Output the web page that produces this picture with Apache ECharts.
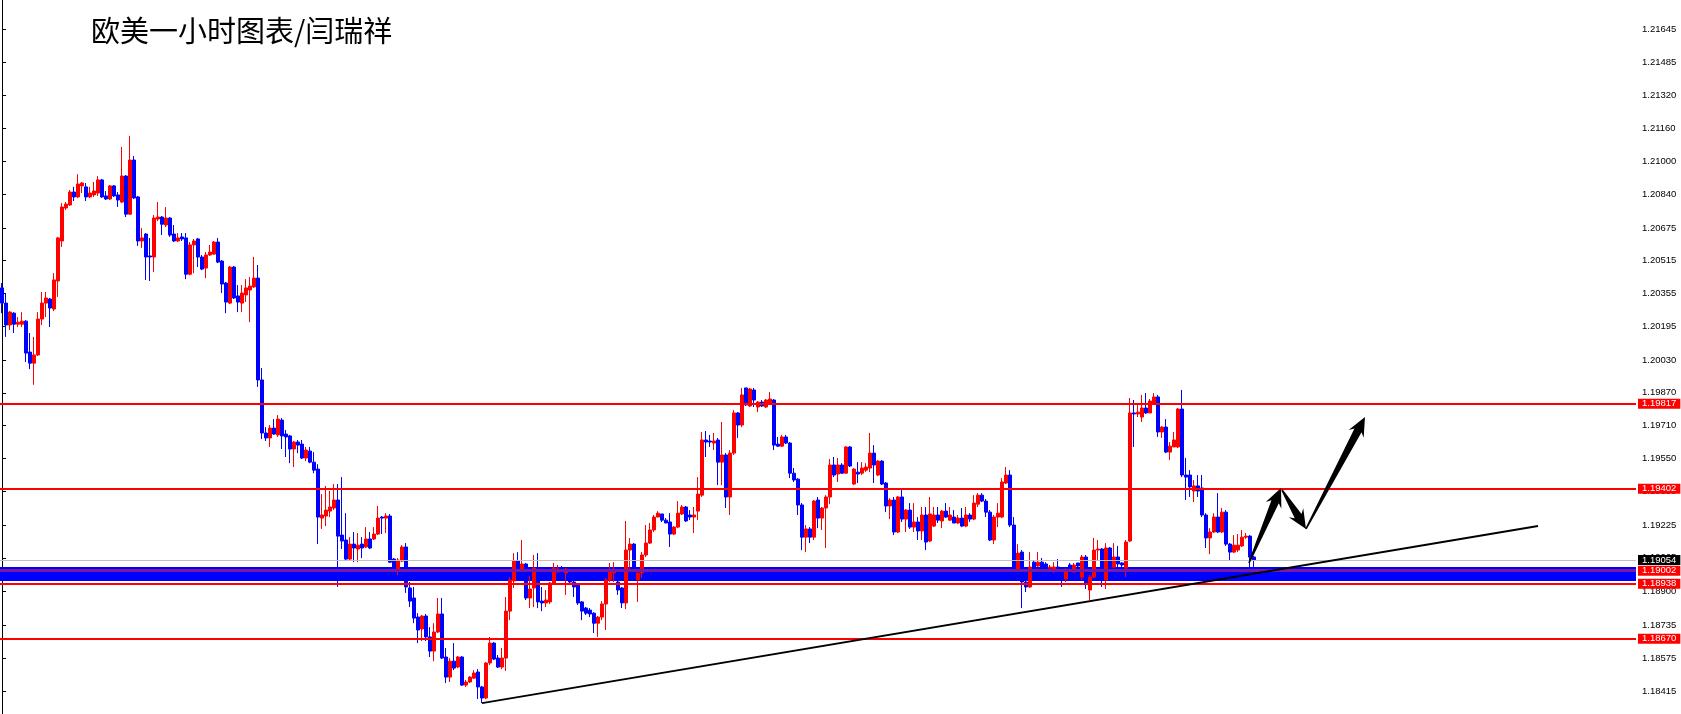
<!DOCTYPE html>
<html><head><meta charset="utf-8">
<script src="https://cdn.jsdelivr.net/npm/echarts@6/dist/echarts.min.js"></script>
<style>html,body{margin:0;padding:0;background:#fff}#c{width:1681px;height:714px}</style>
</head><body><div id="c"></div><script>
// [open, close, low, high]
const candles = [
[1.20382,1.20308,1.20259,1.20406],[1.20308,1.20201,1.20143,1.20357],[1.20201,1.20264,1.20177,1.20269],[1.20259,1.20205,1.20162,1.20264],
[1.20205,1.20215,1.20191,1.20240],[1.20205,1.20220,1.20191,1.20264],[1.20220,1.20064,1.20020,1.20225],[1.20069,1.20015,1.19986,1.20162],
[1.20015,1.20055,1.19909,1.20143],[1.20055,1.20230,1.20050,1.20264],[1.20230,1.20308,1.20201,1.20362],[1.20308,1.20333,1.20240,1.20362],
[1.20328,1.20284,1.20191,1.20333],[1.20279,1.20421,1.20269,1.20454],[1.20416,1.20626,1.20338,1.20631],[1.20611,1.20777,1.20582,1.20796],
[1.20772,1.20791,1.20762,1.20801],[1.20787,1.20850,1.20782,1.20860],[1.20850,1.20826,1.20806,1.20875],[1.20826,1.20889,1.20821,1.20937],
[1.20880,1.20894,1.20845,1.20899],[1.20875,1.20826,1.20806,1.20894],[1.20826,1.20845,1.20821,1.20875],[1.20836,1.20855,1.20826,1.20899],
[1.20845,1.20909,1.20831,1.20928],[1.20909,1.20826,1.20821,1.20914],[1.20831,1.20816,1.20811,1.20855],[1.20816,1.20880,1.20811,1.20884],
[1.20880,1.20831,1.20826,1.20884],[1.20836,1.20811,1.20777,1.20850],[1.20801,1.20928,1.20796,1.21070],[1.20928,1.20742,1.20728,1.20933],
[1.20742,1.21006,1.20738,1.21124],[1.21006,1.20821,1.20816,1.21026],[1.20826,1.20611,1.20587,1.20831],[1.20611,1.20626,1.20577,1.20674],
[1.20645,1.20533,1.20421,1.20650],[1.20538,1.20533,1.20416,1.20626],[1.20533,1.20723,1.20459,1.20738],[1.20718,1.20728,1.20708,1.20801],
[1.20728,1.20693,1.20640,1.20733],[1.20689,1.20723,1.20679,1.20777],[1.20723,1.20640,1.20631,1.20728],[1.20645,1.20611,1.20606,1.20689],
[1.20611,1.20626,1.20606,1.20650],[1.20631,1.20621,1.20611,1.20650],[1.20626,1.20449,1.20425,1.20650],[1.20449,1.20592,1.20444,1.20606],
[1.20592,1.20611,1.20454,1.20621],[1.20621,1.20533,1.20484,1.20626],[1.20533,1.20474,1.20469,1.20543],[1.20479,1.20543,1.20430,1.20557],
[1.20543,1.20557,1.20538,1.20592],[1.20547,1.20606,1.20543,1.20611],[1.20606,1.20508,1.20503,1.20626],[1.20513,1.20401,1.20357,1.20518],
[1.20406,1.20313,1.20259,1.20411],[1.20308,1.20484,1.20303,1.20489],[1.20484,1.20333,1.20328,1.20489],[1.20343,1.20313,1.20264,1.20396],
[1.20308,1.20357,1.20264,1.20396],[1.20348,1.20382,1.20313,1.20425],[1.20372,1.20391,1.20215,1.20435],[1.20387,1.20430,1.20382,1.20533],
[1.20430,1.19933,1.19899,1.20494],[1.19933,1.19674,1.19645,1.19991],[1.19674,1.19650,1.19635,1.19703],[1.19650,1.19698,1.19606,1.19713],
[1.19698,1.19669,1.19665,1.19742],[1.19665,1.19742,1.19655,1.19762],[1.19737,1.19660,1.19596,1.19747],[1.19669,1.19655,1.19557,1.19689],
[1.19660,1.19596,1.19527,1.19665],[1.19596,1.19630,1.19508,1.19635],[1.19630,1.19615,1.19576,1.19640],[1.19620,1.19552,1.19547,1.19640],
[1.19552,1.19591,1.19537,1.19606],[1.19586,1.19532,1.19527,1.19606],[1.19532,1.19493,1.19478,1.19581],[1.19498,1.19264,1.19132,1.19522],
[1.19259,1.19274,1.19206,1.19376],[1.19269,1.19298,1.19220,1.19416],[1.19293,1.19313,1.19264,1.19391],[1.19308,1.19347,1.19298,1.19425],
[1.19347,1.19171,1.18923,1.19425],[1.19176,1.19147,1.19108,1.19459],[1.19152,1.19059,1.19049,1.19283],[1.19059,1.19132,1.19054,1.19166],
[1.19132,1.19113,1.19044,1.19191],[1.19108,1.19127,1.19044,1.19186],[1.19132,1.19113,1.19064,1.19166],[1.19118,1.19157,1.19113,1.19215],
[1.19157,1.19113,1.19108,1.19191],[1.19157,1.19181,1.19152,1.19215],[1.19181,1.19259,1.19176,1.19318],[1.19264,1.19259,1.19181,1.19269],
[1.19259,1.19269,1.19186,1.19283],[1.19269,1.19044,1.19040,1.19279],[1.19059,1.19005,1.18996,1.19064],[1.19005,1.19054,1.18981,1.19064],
[1.19049,1.19118,1.19044,1.19127],[1.19118,1.18923,1.18894,1.19137],[1.18918,1.18854,1.18825,1.18947],[1.18869,1.18771,1.18746,1.18923],
[1.18776,1.18713,1.18649,1.18795],[1.18718,1.18781,1.18659,1.18786],[1.18781,1.18679,1.18659,1.18791],[1.18679,1.18610,1.18581,1.18727],
[1.18610,1.18703,1.18561,1.18746],[1.18703,1.18791,1.18698,1.18869],[1.18791,1.18576,1.18571,1.18869],[1.18581,1.18483,1.18454,1.18625],
[1.18483,1.18561,1.18459,1.18576],[1.18561,1.18527,1.18517,1.18649],[1.18532,1.18581,1.18527,1.18586],[1.18581,1.18444,1.18440,1.18586],
[1.18444,1.18459,1.18435,1.18469],[1.18459,1.18483,1.18454,1.18488],[1.18478,1.18503,1.18474,1.18517],[1.18508,1.18435,1.18376,1.18522],
[1.18435,1.18381,1.18356,1.18440],[1.18381,1.18552,1.18376,1.18556],[1.18552,1.18649,1.18542,1.18679],[1.18649,1.18571,1.18566,1.18654],
[1.18576,1.18532,1.18527,1.18591],[1.18532,1.18576,1.18522,1.18625],[1.18576,1.18805,1.18513,1.18874],[1.18805,1.18957,1.18761,1.18971],
[1.18952,1.19049,1.18918,1.19088],[1.19049,1.19020,1.18991,1.19093],[1.19000,1.19035,1.18996,1.19152],[1.19035,1.18869,1.18859,1.19040],
[1.18869,1.18913,1.18820,1.18976],[1.18918,1.19015,1.18825,1.19079],[1.19015,1.18850,1.18820,1.19088],[1.18854,1.18845,1.18805,1.18923],
[1.18845,1.18859,1.18825,1.18908],[1.18850,1.18942,1.18840,1.18947],[1.18942,1.19015,1.18933,1.19040],[1.18996,1.19010,1.18996,1.19030],
[1.19010,1.18996,1.18991,1.19025],[1.18991,1.19010,1.18884,1.19015],[1.18996,1.18947,1.18933,1.19005],[1.18947,1.18923,1.18874,1.18952],
[1.18933,1.18845,1.18835,1.18937],[1.18850,1.18805,1.18761,1.18854],[1.18820,1.18795,1.18786,1.18825],[1.18810,1.18791,1.18776,1.18820],
[1.18795,1.18746,1.18698,1.18800],[1.18746,1.18776,1.18679,1.18781],[1.18776,1.18840,1.18761,1.18854],[1.18840,1.18957,1.18713,1.18967],
[1.18957,1.18996,1.18947,1.19040],[1.18991,1.19005,1.18947,1.19044],[1.18947,1.18908,1.18884,1.18957],[1.18918,1.18845,1.18820,1.18923],
[1.18845,1.19103,1.18815,1.19245],[1.19103,1.19132,1.19005,1.19162],[1.19132,1.19015,1.19010,1.19137],[1.18957,1.18991,1.18850,1.19005],
[1.18991,1.19079,1.18967,1.19093],[1.19079,1.19137,1.19069,1.19225],[1.19137,1.19201,1.19132,1.19235],[1.19201,1.19264,1.19191,1.19274],
[1.19264,1.19283,1.19264,1.19293],[1.19279,1.19249,1.19240,1.19279],[1.19249,1.19235,1.19235,1.19259],[1.19240,1.19181,1.19118,1.19283],
[1.19181,1.19215,1.19176,1.19220],[1.19215,1.19283,1.19210,1.19342],[1.19279,1.19313,1.19274,1.19323],[1.19313,1.19245,1.19240,1.19318],
[1.19274,1.19264,1.19249,1.19298],[1.19264,1.19274,1.19186,1.19313],[1.19293,1.19376,1.19249,1.19459],[1.19371,1.19640,1.19362,1.19679],
[1.19640,1.19630,1.19557,1.19684],[1.19635,1.19630,1.19606,1.19665],[1.19625,1.19635,1.19591,1.19674],[1.19640,1.19532,1.19420,1.19650],
[1.19532,1.19567,1.19420,1.19728],[1.19567,1.19362,1.19308,1.19576],[1.19362,1.19576,1.19274,1.19591],[1.19576,1.19772,1.19567,1.19786],
[1.19772,1.19713,1.19650,1.19776],[1.19713,1.19860,1.19703,1.19894],[1.19894,1.19811,1.19806,1.19894],[1.19806,1.19889,1.19801,1.19894],
[1.19884,1.19835,1.19801,1.19894],[1.19801,1.19825,1.19776,1.19830],[1.19825,1.19806,1.19801,1.19835],[1.19801,1.19835,1.19796,1.19840],
[1.19820,1.19840,1.19815,1.19874],[1.19835,1.19615,1.19591,1.19840],[1.19620,1.19610,1.19606,1.19655],[1.19610,1.19655,1.19606,1.19665],
[1.19655,1.19625,1.19620,1.19665],[1.19625,1.19478,1.19454,1.19630],[1.19478,1.19445,1.19435,1.19503],[1.19449,1.19323,1.19274,1.19454],
[1.19323,1.19166,1.19103,1.19332],[1.19166,1.19206,1.19093,1.19225],[1.19206,1.19166,1.19137,1.19215],[1.19166,1.19342,1.19152,1.19347],
[1.19347,1.19259,1.19210,1.19362],[1.19259,1.19308,1.19201,1.19313],[1.19308,1.19362,1.19113,1.19371],[1.19362,1.19518,1.19327,1.19547],
[1.19518,1.19469,1.19459,1.19557],[1.19474,1.19518,1.19435,1.19552],[1.19518,1.19478,1.19474,1.19527],[1.19478,1.19606,1.19478,1.19610],
[1.19606,1.19513,1.19508,1.19610],[1.19425,1.19498,1.19420,1.19503],[1.19483,1.19474,1.19430,1.19532],[1.19478,1.19503,1.19469,1.19532],
[1.19493,1.19508,1.19483,1.19527],[1.19503,1.19576,1.19483,1.19674],[1.19576,1.19518,1.19430,1.19615],[1.19469,1.19537,1.19464,1.19542],
[1.19537,1.19425,1.19420,1.19542],[1.19430,1.19318,1.19288,1.19435],[1.19318,1.19347,1.19254,1.19357],[1.19347,1.19191,1.19176,1.19362],
[1.19191,1.19362,1.19186,1.19366],[1.19362,1.19254,1.19240,1.19396],[1.19254,1.19298,1.19191,1.19303],[1.19298,1.19215,1.19206,1.19332],
[1.19215,1.19240,1.19191,1.19332],[1.19240,1.19196,1.19152,1.19264],[1.19196,1.19274,1.19152,1.19313],[1.19274,1.19142,1.19103,1.19313],
[1.19147,1.19279,1.19142,1.19362],[1.19220,1.19274,1.19215,1.19313],[1.19274,1.19249,1.19235,1.19313],[1.19245,1.19293,1.19210,1.19298],
[1.19293,1.19264,1.19259,1.19332],[1.19249,1.19274,1.19245,1.19313],[1.19264,1.19235,1.19235,1.19298],[1.19235,1.19259,1.19230,1.19274],
[1.19259,1.19220,1.19215,1.19308],[1.19220,1.19274,1.19215,1.19313],[1.19274,1.19254,1.19240,1.19283],[1.19254,1.19332,1.19249,1.19371],
[1.19327,1.19371,1.19313,1.19381],[1.19371,1.19342,1.19337,1.19381],[1.19342,1.19288,1.19264,1.19352],[1.19288,1.19152,1.19147,1.19298],
[1.19152,1.19264,1.19132,1.19274],[1.19264,1.19283,1.19215,1.19332],[1.19264,1.19435,1.19259,1.19454],[1.19430,1.19469,1.19425,1.19508],
[1.19469,1.19225,1.19215,1.19493],[1.19225,1.19005,1.19000,1.19264],[1.19005,1.19088,1.19000,1.19132],[1.19093,1.18947,1.18820,1.19103],
[1.18947,1.18923,1.18898,1.18971],[1.18923,1.19020,1.18918,1.19093],[1.19044,1.19020,1.19005,1.19054],[1.19025,1.19044,1.19020,1.19093],
[1.19044,1.19020,1.19005,1.19064],[1.19035,1.19020,1.19015,1.19044],[1.19015,1.19020,1.19005,1.19030],[1.19010,1.19020,1.18991,1.19044],
[1.19020,1.19015,1.19005,1.19059],[1.19005,1.18957,1.18923,1.19015],[1.18962,1.19005,1.18947,1.19015],[1.19030,1.19015,1.19005,1.19040],
[1.18996,1.19030,1.18991,1.19040],[1.19040,1.19025,1.18986,1.19040],[1.18971,1.19069,1.18957,1.19079],[1.19069,1.18942,1.18913,1.19079],
[1.18908,1.18971,1.18859,1.18981],[1.18971,1.19103,1.18967,1.19162],[1.19103,1.19108,1.19054,1.19152],[1.19108,1.18971,1.18923,1.19113],
[1.18957,1.19113,1.18913,1.19137],[1.19113,1.19020,1.18996,1.19118],[1.19020,1.19069,1.19015,1.19137],[1.19069,1.19035,1.19020,1.19123],
[1.19040,1.19030,1.19020,1.19044],[1.19015,1.19142,1.18971,1.19152],[1.19147,1.19772,1.19142,1.19845],[1.19772,1.19767,1.19606,1.19835],
[1.19767,1.19776,1.19752,1.19820],[1.19752,1.19796,1.19728,1.19860],[1.19796,1.19772,1.19767,1.19869],[1.19772,1.19830,1.19772,1.19840],
[1.19820,1.19850,1.19815,1.19869],[1.19850,1.19679,1.19655,1.19860],[1.19679,1.19703,1.19650,1.19708],[1.19703,1.19581,1.19576,1.19742],
[1.19581,1.19610,1.19542,1.19630],[1.19606,1.19640,1.19606,1.19679],[1.19606,1.19791,1.19601,1.19796],[1.19791,1.19469,1.19459,1.19884],
[1.19469,1.19459,1.19347,1.19552],[1.19469,1.19411,1.19362,1.19493],[1.19391,1.19416,1.19337,1.19445],[1.19416,1.19391,1.19362,1.19469],
[1.19406,1.19274,1.19264,1.19469],[1.19274,1.19162,1.19113,1.19283],[1.19162,1.19191,1.19083,1.19210],[1.19191,1.19264,1.19186,1.19283],
[1.19264,1.19191,1.19186,1.19381],[1.19191,1.19288,1.19186,1.19308],[1.19288,1.19132,1.19123,1.19298],[1.19132,1.19093,1.19054,1.19137],
[1.19093,1.19127,1.19088,1.19176],[1.19103,1.19127,1.19093,1.19181],[1.19123,1.19166,1.19118,1.19201],[1.19166,1.19171,1.19157,1.19186],
[1.19171,1.19069,1.19020,1.19176],[1.19069,1.19054,1.19020,1.19074]
];
const totalSlots = 409;
const categories = Array.from({length: totalSlots}, (_, i) => String(i));
const yTicks = [1.21645,1.21485,1.21320,1.21160,1.21000,1.20840,1.20675,1.20515,1.20355,1.20195,1.20030,
  1.19870,1.19710,1.19550,1.19390,1.19225,1.19065,1.18900,1.18735,1.18575,1.18415];
const yRange = [1.18303, 1.21787];
const levelLines = [1.19817, 1.19402, 1.18938, 1.18670];
const bandLine = 1.19002;
const bandRange = [1.19020, 1.18952];
const bidPrice = 1.19054;
const trendLine = [[120, 1.18356], [384, 1.19220]];
const arrows = [[311.75, 1.19040, 319.75, 1.19406], [320, 1.19396, 326, 1.19206], [326, 1.19206, 340.75, 1.19752]];
const titleText = '欧美一小时图表/闫瑞祥';

const FONT = 'Liberation Sans';
function priceLabel(bg) {
  return {show: true, position: 'end', distance: 2, formatter: p => Number(p.value).toFixed(5),
    backgroundColor: bg, color: '#fff', padding: [1, 4, 0, 4], fontSize: 9.5, fontFamily: FONT, lineHeight: 9};
}
const lineData = [];
levelLines.forEach(v => lineData.push({yAxis: v, lineStyle: {color: '#ff0000', width: 2, type: 'solid'}, label: priceLabel('#ff0000')}));
lineData.push({yAxis: bandLine, lineStyle: {color: '#7a1aa0', width: 3, type: 'solid'}, label: priceLabel('#ff0000')});
lineData.push({yAxis: bidPrice, lineStyle: {color: '#c0c0c0', width: 1, type: 'solid'}, label: priceLabel('#000000')});
lineData.push([{coord: trendLine[0], lineStyle: {color: '#000', width: 2, type: 'solid'}, label: {show: false}}, {coord: trendLine[1]}]);

const chart = echarts.init(document.getElementById('c'), null, {renderer: 'canvas'});
chart.setOption({
  animation: false,
  backgroundColor: '#ffffff',
  title: {text: titleText, left: 86, top: 11, textStyle: {fontSize: 29, fontWeight: 'normal', color: '#000', fontFamily: 'Noto Sans CJK SC'}},
  grid: {left: 0, right: 45, top: 0, bottom: 0, containLabel: false},
  xAxis: [
    {type: 'category', data: categories, boundaryGap: true, show: false},
    {type: 'value', min: -0.5, max: totalSlots - 0.5, show: false}
  ],
  yAxis: [{
    type: 'value', position: 'right', min: yRange[0], max: yRange[1],
    splitLine: {show: false},
    axisLine: {show: true, lineStyle: {color: '#000', width: 1}},
    axisTick: {show: true, customValues: yTicks, length: 4, lineStyle: {color: '#000'}},
    axisLabel: {customValues: yTicks, formatter: v => v.toFixed(5), color: '#000', fontSize: 9.5, fontFamily: FONT, margin: 6}
  }],
  series: [
    {type: 'line', xAxisIndex: 1, data: [], z: 1, silent: true,
      markArea: {silent: true, itemStyle: {color: '#0000ff', opacity: 1}, data: [[{yAxis: bandRange[0]}, {yAxis: bandRange[1]}]]}},
    {type: 'candlestick', xAxisIndex: 0, data: candles, barWidth: 3, z: 3,
      itemStyle: {color: '#ff0000', color0: '#0000ff', borderColor: '#ff0000', borderColor0: '#0000ff', borderWidth: 1}},
    {type: 'line', xAxisIndex: 1, data: [], z: 4, silent: true,
      markLine: {symbol: 'none', silent: true, animation: false, precision: 5, data: lineData}},
    {type: 'custom', xAxisIndex: 1, z: 5, data: arrows, clip: false, silent: true,
      renderItem: (params, api) => {
        const p0 = api.coord([api.value(0), api.value(1)]);
        const p1 = api.coord([api.value(2), api.value(3)]);
        const dx = p1[0] - p0[0], dy = p1[1] - p0[1];
        const L = Math.hypot(dx, dy), ux = dx / L, uy = dy / L, nx = -uy, ny = ux;
        const headLen = 19, headW = 8.5, w0 = 0.8, w1 = 4;
        const bx = p1[0] - ux * headLen, by = p1[1] - uy * headLen;
        const bx2 = p1[0] - ux * (headLen - 4), by2 = p1[1] - uy * (headLen - 4);
        const pts = [
          [p0[0] + nx * w0, p0[1] + ny * w0],
          [bx2 + nx * w1, by2 + ny * w1],
          [bx + nx * headW, by + ny * headW],
          [p1[0], p1[1]],
          [bx - nx * headW, by - ny * headW],
          [bx2 - nx * w1, by2 - ny * w1],
          [p0[0] - nx * w0, p0[1] - ny * w0]
        ];
        return {type: 'polygon', shape: {points: pts}, style: {fill: '#000'}};
      }}
  ]
});
</script></body></html>
